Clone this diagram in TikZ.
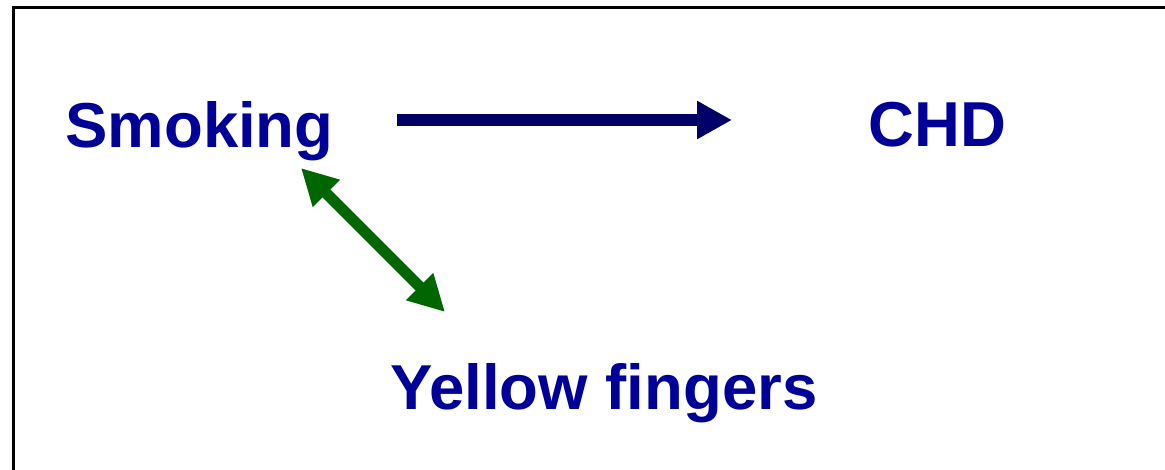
\documentclass[tikz,border=0pt]{standalone}
\usepackage{fontspec}
\setmainfont{Liberation Sans}
\usetikzlibrary{arrows.meta}
\definecolor{txtblue}{RGB}{0,0,153}
\definecolor{navyarrow}{RGB}{0,0,102}
\definecolor{darkgreen}{RGB}{0,102,0}
\tikzset{
  lbl/.style={inner sep=0pt, anchor=base, text=txtblue, font=\fontsize{63.5}{76}\selectfont\bfseries},
  causal/.style={draw=navyarrow, line width=12pt, -{Triangle[length=35pt,width=36pt]}},
  assoc/.style={draw=darkgreen, line width=11pt, {Triangle[length=36pt,width=36pt]}-{Triangle[length=36pt,width=36pt]}},
  frame/.style={draw=black, line width=3pt}
}
\begin{document}
\begin{tikzpicture}[x=1pt,y=-1pt]
\useasboundingbox (0,0) rectangle (1165,469);
\clip (0,0) rectangle (1165,469);
\draw[frame] (13.5,7.5) rectangle (1200,520);
\node[lbl] (smoking) at (199.5,147) {Smoking};
\node[lbl] (chd) at (937.5,146) {CHD};
\node[lbl] (yellow) at (604,409) {Yellow fingers};
\coordinate (hstart) at (397,120);
\coordinate (hend) at (732,120);
\coordinate (gstart) at (301,168);
\coordinate (gend) at (445,312);
\draw[causal] (hstart) -- (hend);
\draw[assoc] (gstart) -- (gend);
\end{tikzpicture}
\end{document}
